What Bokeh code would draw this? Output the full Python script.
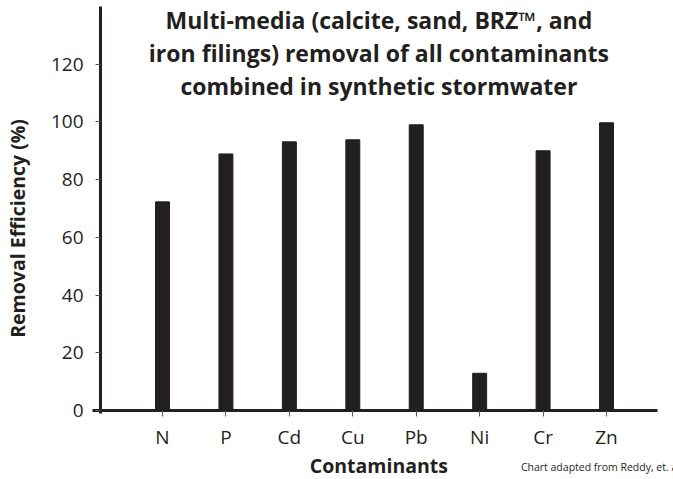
import math
from bokeh.plotting import figure
from bokeh.models import Range1d, FixedTicker, Label
from bokeh.embed import file_html
from bokeh.resources import INLINE

categories = ["N", "P", "Cd", "Cu", "Pb", "Ni", "Cr", "Zn"]
removal = [72.3, 88.9, 93.1, 93.8, 99.0, 12.9, 90.0, 99.7]
y_ticks = [0, 20, 40, 60, 80, 100, 120]
title_lines = [
    "Multi-media (calcite, sand, BRZ\u2122, and",
    "iron filings) removal of all contaminants",
    "combined in synthetic stormwater",
]
y_label = "Removal Efficiency (%)"
x_label = "Contaminants"
footnote = "Chart adapted from Reddy, et. al."

INK = "#231f20"
TICK_FONT = "Open Sans"
BOLD_FONT = "Open Sans"

xs = list(range(len(categories)))

# layout extents (data units): the frame fills the canvas, axes are drawn at fixed spots
X_START, X_END = -2.554, 8.056
Y_START, Y_END = -23.9, 142.07
Y_AXIS_AT = -0.977          # where the y axis stands
X_LINE = (-1.104, 7.80)     # extent of the x axis line
Y_LINE = (-1.0, 140.0)      # extent of the y axis line

p = figure(width=673, height=479, output_backend="svg", toolbar_location=None,
           x_range=Range1d(X_START, X_END), y_range=Range1d(Y_START, Y_END),
           min_border_left=0, min_border_right=0, min_border_top=0, min_border_bottom=0)
p.outline_line_color = None
p.grid.grid_line_color = None
p.background_fill_color = "white"
p.border_fill_color = "white"

p.vbar(x=xs, top=removal, width=0.22, color=INK)

# x axis at y = 0
xa = p.xaxis[0]
xa.fixed_location = 0
xa.bounds = X_LINE
xa.ticker = FixedTicker(ticks=xs)
xa.major_label_overrides = {i: c for i, c in enumerate(categories)}
xa.minor_tick_line_color = None
xa.axis_line_width = 3
xa.axis_line_color = INK
xa.major_tick_line_color = "#555555"
xa.major_tick_in = 0
xa.major_tick_out = 6
xa.major_label_standoff = 7
xa.major_label_text_font = TICK_FONT
xa.major_label_text_font_size = "19px"
xa.major_label_text_color = INK

# y axis
ya = p.yaxis[0]
ya.fixed_location = Y_AXIS_AT
ya.bounds = Y_LINE
ya.ticker = FixedTicker(ticks=y_ticks)
ya.minor_tick_line_color = None
ya.axis_line_width = 3
ya.axis_line_color = INK
ya.major_tick_line_color = "#555555"
ya.major_tick_in = 0
ya.major_tick_out = 5
ya.major_label_standoff = 12
ya.major_label_text_font = TICK_FONT
ya.major_label_text_font_size = "19px"
ya.major_label_text_color = INK

x_mid = (Y_AXIS_AT + X_LINE[1]) / 2

# axis titles
p.add_layout(Label(x=-2.286, y=63.1, text=y_label, angle=math.pi / 2,
                   text_align="center", text_baseline="middle",
                   text_font=BOLD_FONT, text_font_style="bold", text_font_size="19.5px",
                   text_color=INK))
p.add_layout(Label(x=x_mid, y=-19.2, text=x_label, text_align="center", text_baseline="middle",
                   text_font=BOLD_FONT, text_font_style="bold", text_font_size="19.5px",
                   text_color=INK))

# chart title, three centred lines inside the plot area
title_y = [135.2, 123.9, 112.6]
for txt, ty in zip(title_lines, title_y):
    p.add_layout(Label(x=x_mid, y=ty, text=txt, text_align="center", text_baseline="middle",
                       text_font=BOLD_FONT, text_font_style="bold", text_font_size="23px",
                       text_color=INK))

# source note, running off the right edge as in the reference
p.add_layout(Label(x=5.65, y=-19.7, text=footnote, text_align="left", text_baseline="middle",
                   text_font="Open Sans", text_font_size="10.5px", text_color=INK))

open("out.html", "w").write(file_html(p, INLINE))
